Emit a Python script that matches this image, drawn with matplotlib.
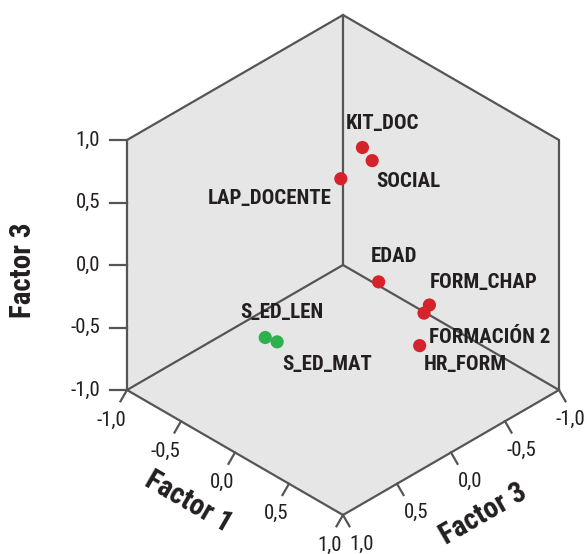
import numpy as np
import matplotlib
matplotlib.use("Agg")
import matplotlib.pyplot as plt
from matplotlib.patches import Polygon

# component loadings (Factor 1, Factor 2, Factor 3)
variables = ["KIT_DOC", "SOCIAL", "LAP_DOCENTE", "EDAD", "FORM_CHAP",
             "FORMACIÓN 2", "HR_FORM", "S_ED_LEN", "S_ED_MAT"]
factor1 = [0.00, 0.10, 0.00, 0.40, 0.77, 0.76, 0.90, 0.17, 0.26]
factor2 = [-0.18, -0.17, 0.02, 0.07, -0.03, 0.01, 0.19, 0.89, 0.87]
factor3 = [0.85, 0.80, 0.70, 0.10, 0.05, 0.00, -0.10, -0.05, -0.05]
groups = ["A", "A", "A", "A", "A", "A", "A", "B", "B"]

tick_values = [-1.0, -0.5, 0.0, 0.5, 1.0]
tick_labels = ["-1,0", "-0,5", "0,0", "0,5", "1,0"]

group_colors = {"A": "#d5232b", "B": "#2fb04e"}
# label offsets in pixels (dx, dy down), alignment
label_style = [(-17, -24, "left"), (4, 21, "left"), (-9, 20, "right"),
               (-8, -25, "left"), (0, -22, "left"), (5, 24, "left"),
               (4, 19, "left"), (-25, -25, "left"), (5, 23, "left")]

W, H = 587, 554
SCALE = 125.0          # pixels per unit
OX, OY = 343, 265      # pixel position of the origin
C = 108.0 / 125.0


def proj(x, y, z):
    x, y, z = np.asarray(x, float), np.asarray(y, float), np.asarray(z, float)
    return C * (x - y), z - 0.5 * (x + y)


def px(n):
    return n / SCALE


narrow = ["Roboto Condensed", "DejaVu Sans"]
edge_color = "#555555"
text_color = "#231f20"

fig = plt.figure(figsize=(W / 100, H / 100), dpi=100)
ax = fig.add_axes([0, 0, 1, 1])
ax.set_xlim(-OX / SCALE, (W - OX) / SCALE)
ax.set_ylim(-(H - OY) / SCALE, OY / SCALE)
ax.axis("off")
x_right = (W - OX - 2) / SCALE   # keep tick labels inside the canvas

# box outline
corners = [(-1, -1, 1), (1, -1, 1), (1, -1, -1), (1, 1, -1), (-1, 1, -1), (-1, 1, 1)]
hexagon = [proj(*c) for c in corners]
ax.add_patch(Polygon(hexagon, closed=True, facecolor="#e6e6e6",
                     edgecolor=edge_color, linewidth=1.6, zorder=1))
back = proj(-1, -1, -1)
for c in [(-1, -1, 1), (-1, 1, -1), (1, -1, -1)]:
    e = proj(*c)
    ax.plot([back[0], e[0]], [back[1], e[1]], color=edge_color, lw=1.6, zorder=2)

tv = np.array(tick_values)
# vertical axis (Factor 3) on the left edge
zu, zv = proj(-np.ones(5), np.ones(5), tv)
for u, v, lab in zip(zu, zv, tick_labels):
    ax.plot([u, u - px(17)], [v, v], color=edge_color, lw=1.6, zorder=2)
    ax.text(u - px(27), v, lab, ha="right", va="center", fontsize=15,
            family=narrow, color=text_color)

# Factor 1 along the front-left edge
fu, fv = proj(tv, np.ones(5), -np.ones(5))
for u, v, lab in zip(fu, fv, tick_labels):
    ax.plot([u, u - px(6.5)], [v, v - px(11.3)], color=edge_color, lw=1.6, zorder=2)
    ax.text(u - px(1), v - px(30), lab, ha="right", va="center", fontsize=15,
            family=narrow, color=text_color)

# Factor 2 along the front-right edge
gu, gv = proj(np.ones(5), tv, -np.ones(5))
for u, v, lab in zip(gu, gv, tick_labels):
    ax.plot([u, u + px(6.5)], [v, v - px(11.3)], color=edge_color, lw=1.6, zorder=2)
    ax.text(min(u + px(31), x_right), v - px(29), lab, ha="right", va="center",
            fontsize=15, family=narrow, color=text_color)

# points and labels
pu, pv = proj(factor1, factor2, factor3)
colors = [group_colors[g] for g in groups]
ax.scatter(pu, pv, s=90, c=colors, edgecolors="none", zorder=5)
for u, v, name, (dx, dy, ha) in zip(pu, pv, variables, label_style):
    ax.annotate(name, (u, v), xytext=(dx * 0.72, -dy * 0.72),
                textcoords="offset points", ha=ha, va="center",
                fontsize=15, fontweight="bold", family=narrow,
                color=text_color, zorder=6)

# axis titles
fig.text(23 / W, 1 - 270 / H, "Factor 3", rotation=90, ha="center", va="center",
         fontsize=21, fontweight="bold", family=narrow, color=text_color)
fig.text(188 / W, 1 - 502 / H, "Factor 1", rotation=-30, ha="center", va="center",
         fontsize=21, fontweight="bold", family=narrow, color=text_color)
fig.text(483 / W, 1 - 514 / H, "Factor 3", rotation=30, ha="center", va="center",
         fontsize=21, fontweight="bold", family=narrow, color=text_color)

fig.savefig("out.png", dpi=100)
